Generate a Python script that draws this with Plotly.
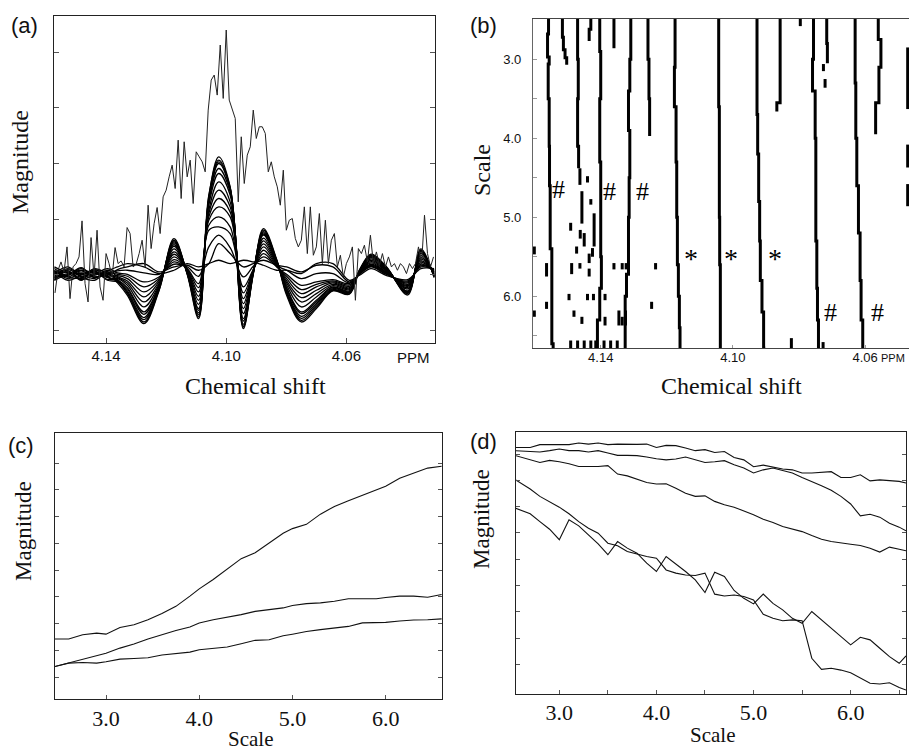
import plotly.graph_objects as go

W, H = 909, 753
SERIF = "Liberation Serif, Times New Roman, serif"
SANS = "Liberation Sans, Arial, Helvetica, sans-serif"

# ---------------- panel (a): wavelet-filtered spectra + raw spectrum ----------------
a_knots_ppm = [4.1572, 4.1527, 4.1483, 4.1439, 4.1395, 4.1362, 4.1329, 4.1274, 4.1224, 4.1174,
               4.1130, 4.1092, 4.1058, 4.1025, 4.0987, 4.0943, 4.0910, 4.0876, 4.0832, 4.0799,
               4.0750, 4.0700, 4.0645, 4.0590, 4.0556, 4.0518, 4.0468, 4.0396, 4.0352, 4.0308]
a_curve_A = [158, 175, 155, 178, 150, 145, 110, 25, 120, 270, 170, 40, 400, 520, 430, 5, 170, 300, 210, 110, 30, 70, 120, 110, 180, 225, 190, 110, 240, 160]
a_curve_A2 = [175, 160, 178, 158, 172, 142, 105, 20, 118, 275, 168, 35, 405, 510, 428, 10, 168, 305, 212, 105, 25, 65, 118, 108, 182, 228, 192, 106, 244, 158]
a_curve_A3 = [150, 182, 162, 170, 158, 147, 114, 32, 124, 266, 171, 46, 395, 505, 425, 12, 171, 296, 209, 114, 36, 75, 122, 112, 180, 224, 189, 112, 238, 161]
a_curve_H = [180, 155, 172, 165, 175, 148, 118, 38, 126, 262, 172, 52, 392, 500, 422, 18, 172, 292, 208, 118, 42, 80, 125, 114, 179, 222, 188, 114, 236, 162]
a_curve_B2 = [162, 178, 150, 182, 160, 150, 124, 48, 130, 257, 174, 60, 385, 485, 415, 28, 174, 288, 206, 124, 50, 85, 128, 116, 178, 220, 186, 116, 232, 164]
a_curve_B = [172, 165, 185, 160, 168, 152, 128, 55, 132, 252, 175, 65, 375, 470, 405, 35, 175, 285, 205, 128, 55, 90, 130, 118, 178, 218, 185, 118, 230, 165]
a_curve_C2 = [155, 170, 168, 176, 152, 155, 135, 70, 136, 244, 176, 78, 360, 445, 385, 50, 176, 276, 202, 135, 70, 100, 134, 122, 176, 214, 182, 124, 224, 168]
a_curve_C = [185, 160, 158, 185, 170, 158, 142, 85, 140, 235, 178, 90, 350, 420, 370, 65, 178, 268, 200, 142, 85, 110, 138, 125, 175, 210, 180, 128, 218, 170]
a_curve_I = [165, 185, 170, 155, 180, 161, 148, 100, 145, 228, 180, 102, 340, 395, 355, 80, 179, 259, 198, 148, 98, 120, 142, 128, 173, 206, 178, 132, 213, 172]
a_curve_D = [150, 168, 180, 172, 162, 164, 155, 115, 150, 220, 182, 115, 330, 370, 340, 95, 180, 250, 195, 155, 110, 130, 145, 132, 172, 202, 175, 135, 208, 175]
a_curve_E2 = [178, 150, 165, 180, 175, 168, 162, 130, 155, 212, 184, 128, 315, 340, 310, 112, 181, 240, 192, 162, 122, 138, 148, 136, 171, 198, 174, 138, 203, 176]
a_curve_E = [168, 178, 152, 168, 185, 172, 168, 145, 160, 205, 185, 140, 300, 310, 290, 130, 182, 230, 190, 168, 135, 145, 152, 140, 170, 195, 172, 142, 198, 178]
a_curve_F2 = [160, 165, 188, 160, 170, 178, 180, 172, 168, 198, 190, 162, 250, 285, 248, 160, 192, 220, 193, 180, 155, 170, 170, 142, 169, 192, 170, 145, 194, 180]
a_curve_F = [190, 172, 170, 176, 165, 182, 190, 200, 175, 190, 195, 180, 200, 260, 230, 190, 200, 210, 195, 190, 175, 195, 190, 145, 168, 190, 168, 148, 190, 182]
a_curve_G = [170, 190, 160, 150, 178, 190, 200, 190, 170, 180, 200, 190, 200, 210, 200, 210, 205, 195, 180, 180, 170, 200, 200, 150, 165, 185, 165, 152, 185, 185]
a_curves = [a_curve_A, a_curve_A2, a_curve_A3, a_curve_H, a_curve_B2, a_curve_B, a_curve_C2, a_curve_C,
            a_curve_I, a_curve_D, a_curve_E2, a_curve_E, a_curve_F2, a_curve_F, a_curve_G]

a_raw_start_ppm = 4.157
a_raw_step_ppm = 0.001
a_raw = [112, 180, 205, 175, 250, 95, 190, 200, 220, 328, 140, 85, 278, 160, 300, 130, 90, 230, 200, 160,
         248, 200, 208, 190, 308, 290, 190, 198, 230, 270, 190, 375, 245, 320, 368, 290, 400, 420, 460, 495,
         425, 570, 395, 565, 460, 510, 380, 535, 520, 505, 475, 660, 750, 765, 705, 855, 695, 900, 690, 660,
         635, 385, 580, 440, 525, 550, 660, 575, 610, 610, 590, 475, 505, 460, 430, 375, 480, 300, 330, 335,
         275, 250, 270, 370, 230, 370, 225, 250, 350, 200, 330, 200, 270, 290, 190, 225, 160, 200, 220, 250,
         90, 245, 230, 255, 205, 285, 200, 235, 195, 230, 190, 220, 190, 200, 180, 200, 190, 170, 200, 185,
         200, 250, 195, 345, 230, 190, 220]
a_raw_ppm = [round(a_raw_start_ppm - a_raw_step_ppm * i, 4) for i in range(len(a_raw))]
a_xticks = [4.14, 4.10, 4.06]
a_yticks = [0, 166.6, 333.2, 499.8, 666.4, 833.0]

# ---------------- panel (b): maxima lines (ridges) over scale ----------------
ridges_ppm = [
    [4.1558, 4.1561, 4.1556, 4.1559, 4.1556, 4.1555, 4.1553, 4.1548, 4.1544, 4.1544],
    [4.1516, 4.1513, 4.1508, 4.1503, 4.1503],
    [4.1470, 4.1468, 4.1470, 4.1467, 4.1467],
    [4.1430, 4.1435, 4.1435],
    [4.1403, 4.1400, 4.1403, 4.1400, 4.1400, 4.1398, 4.1403, 4.1410, 4.1410],
    [4.1360, 4.1360],
    [4.1309, 4.1312, 4.1316, 4.1312, 4.1314, 4.1316, 4.1322, 4.1326, 4.1326],
    [4.1257, 4.1254, 4.1252, 4.1252],
    [4.1175, 4.1177, 4.1172, 4.1170, 4.1168, 4.1165, 4.1162, 4.1160, 4.1158],
    [4.1043, 4.1043, 4.1041, 4.1041, 4.1040, 4.1038, 4.1038, 4.1038],
    [4.0927, 4.0927, 4.0925, 4.0922, 4.0919, 4.0917, 4.0912, 4.0907, 4.0902],
    [4.0857, 4.0857, 4.0867, 4.0867],
    [4.0796, 4.0796],
    [4.0756, 4.0759, 4.0751, 4.0749, 4.0749, 4.0746, 4.0744, 4.0741, 4.0741],
    [4.0716, 4.0714, 4.0714],
    [4.0630, 4.0628, 4.0625, 4.0620, 4.0615, 4.0612, 4.0607, 4.0605],
    [4.0560, 4.0552, 4.0558, 4.0568, 4.0568],
]
ridges_scale = [
    [2.49, 2.68, 2.97, 3.06, 3.5, 4.1, 4.6, 5.4, 6.6, 6.655],
    [2.49, 2.72, 2.88, 2.98, 3.07],
    [2.49, 3.0, 3.5, 4.1, 4.38],
    [2.49, 2.62, 2.77],
    [2.49, 2.9, 3.5, 4.3, 4.9, 5.5, 5.9, 6.3, 6.655],
    [2.49, 2.86],
    [2.49, 3.0, 3.4, 3.9, 4.5, 5.0, 5.72, 6.0, 6.655],
    [2.49, 3.0, 3.5, 3.97],
    [2.49, 3.1, 3.6, 4.3, 5.0, 5.6, 6.0, 6.4, 6.655],
    [2.49, 3.0, 3.6, 4.3, 5.0, 5.6, 6.2, 6.655],
    [2.49, 3.2, 3.7, 4.2, 4.8, 5.3, 5.8, 6.2, 6.655],
    [2.49, 2.9, 3.55, 3.66],
    [2.49, 2.58],
    [2.49, 3.0, 3.4, 4.0, 4.6, 5.3, 5.9, 6.3, 6.655],
    [2.49, 2.8, 3.05],
    [2.49, 3.3, 4.0, 4.6, 5.2, 5.8, 6.3, 6.655],
    [2.49, 2.75, 3.1, 3.55, 3.95],
]
frag_ppm = [4.1601, 4.1601, 4.1564, 4.1564, 4.1491, 4.1488, 4.1496, 4.1481, 4.1473, 4.1463,
            4.1457, 4.1462, 4.1463, 4.1457, 4.1440, 4.1430, 4.1420, 4.1425, 4.1435, 4.1450,
            4.1435, 4.1422, 4.1440, 4.1387, 4.1387, 4.1360, 4.1335, 4.1323, 4.1234, 4.1246,
            4.1345, 4.1335, 4.1325,
            4.1491, 4.1470, 4.1450, 4.1430, 4.1415, 4.1390, 4.1370, 4.1350,
            4.0823, 4.0727, 4.0726, 4.0721, 4.0471, 4.0471, 4.0471]
frag_s0 = [5.37, 6.18, 5.58, 6.07, 5.07, 5.58, 5.97, 6.18, 5.37, 4.38,
           4.67, 5.16, 5.58, 6.26, 4.48, 4.77, 4.95, 5.39, 5.46, 5.20,
           5.65, 5.97, 5.97, 5.97, 6.26, 5.58, 5.58, 5.58, 5.58, 6.07,
           6.18, 6.26, 6.18,
           6.56, 6.56, 6.56, 6.56, 6.56, 6.56, 6.56, 6.56,
           6.53, 6.58, 3.06, 3.25, 2.85, 4.08, 4.58]
frag_s1 = [5.47, 6.26, 5.75, 6.16, 5.17, 5.72, 6.05, 6.26, 5.46, 4.59,
           5.08, 5.27, 5.65, 6.35, 4.56, 4.84, 5.37, 5.50, 5.58, 5.37,
           5.75, 6.05, 6.05, 6.05, 6.37, 5.66, 5.66, 5.66, 5.66, 6.16,
           6.37, 6.37, 6.37,
           6.655, 6.655, 6.655, 6.655, 6.655, 6.655, 6.655, 6.655,
           6.655, 6.655, 3.15, 3.36, 3.63, 4.37, 4.86]
b_marks_text = ["#", "#", "#", "*", "*", "*", "#", "#"]
b_marks_ppm = [4.1528, 4.1373, 4.1274, 4.1126, 4.1005, 4.0874, 4.0706, 4.0562]
b_marks_scale = [4.65, 4.67, 4.67, 5.52, 5.52, 5.52, 6.21, 6.21]
b_xticks = [4.14, 4.10, 4.06]
b_yticks = [3.0, 3.5, 4.0, 4.5, 5.0, 5.5, 6.0, 6.5]
b_yticklabels = ["3.0", "", "4.0", "", "5.0", "", "6.0", ""]

# ---------------- panel (c): magnitude vs scale (increasing) ----------------
c_scale = [2.45, 2.6, 2.75, 2.9, 3.0, 3.15, 3.3, 3.45, 3.6, 3.75, 3.9, 4.0, 4.15, 4.3, 4.45,
           4.6, 4.75, 4.9, 5.0, 5.15, 5.3, 5.45, 5.6, 5.75, 5.9, 6.0, 6.15, 6.3, 6.45, 6.6]
c_top = [1.43, 1.43, 1.59, 1.65, 1.61, 1.86, 1.96, 2.15, 2.38, 2.65, 3.03, 3.30, 3.65, 4.05, 4.43,
         4.65, 5.00, 5.38, 5.55, 5.71, 6.09, 6.38, 6.59, 6.80, 7.00, 7.13, 7.43, 7.63, 7.81, 7.88]
c_mid = [0.40, 0.53, 0.68, 0.80, 0.90, 1.09, 1.24, 1.43, 1.59, 1.75, 1.88, 2.03, 2.15, 2.24, 2.34,
         2.46, 2.53, 2.59, 2.68, 2.75, 2.78, 2.84, 2.93, 2.93, 2.93, 2.98, 3.03, 3.03, 2.99, 3.09]
c_low = [0.40, 0.53, 0.55, 0.53, 0.58, 0.68, 0.70, 0.73, 0.83, 0.88, 0.94, 1.03, 1.08, 1.13, 1.25,
         1.38, 1.40, 1.55, 1.61, 1.71, 1.78, 1.85, 1.90, 2.03, 2.03, 2.05, 2.10, 2.14, 2.15, 2.18]

# ---------------- panel (d): magnitude vs scale (decreasing) ----------------
d_scale = [2.55, 2.7, 2.8, 2.9, 3.0, 3.1, 3.2, 3.3, 3.4, 3.5, 3.6, 3.7, 3.8, 3.9, 4.0, 4.1, 4.2,
           4.3, 4.4, 4.5, 4.6, 4.7, 4.8, 4.9, 5.0, 5.1, 5.2, 5.3, 5.4, 5.5, 5.6, 5.7, 5.8, 5.9,
           6.0, 6.1, 6.2, 6.3, 6.4, 6.5, 6.57]
d_1 = [8.25, 8.25, 8.36, 8.36, 8.36, 8.36, 8.42, 8.38, 8.42, 8.36, 8.38, 8.37, 8.37, 8.38, 8.25, 8.33, 8.32,
       8.23, 8.13, 8.17, 8.06, 8.10, 7.87, 7.78, 7.52, 7.58, 7.50, 7.43, 7.40, 7.28, 7.28, 7.30, 7.33, 7.11,
       7.11, 7.21, 6.98, 7.02, 6.98, 6.96, 6.90]
d_2 = [8.13, 8.10, 8.08, 8.13, 8.19, 8.13, 8.13, 8.08, 8.13, 8.04, 7.95, 7.95, 7.94, 7.89, 7.82, 7.78, 7.81,
       7.89, 7.78, 7.68, 7.71, 7.75, 7.59, 7.47, 7.28, 7.40, 7.47, 7.38, 7.28, 7.11, 6.96, 6.79, 6.62, 6.39,
       6.10, 5.65, 5.71, 5.60, 5.37, 5.22, 5.08]
d_3 = [7.94, 7.78, 7.68, 7.76, 7.71, 7.63, 7.53, 7.53, 7.53, 7.56, 7.24, 7.17, 7.05, 6.92, 6.86, 6.87, 6.70,
       6.51, 6.39, 6.41, 6.20, 6.07, 5.98, 5.84, 5.69, 5.52, 5.40, 5.24, 5.14, 5.05, 4.90, 4.76, 4.67, 4.61,
       4.57, 4.52, 4.42, 4.27, 4.46, 4.38, 4.32]
d_4 = [7.02, 6.67, 6.39, 6.20, 5.98, 5.73, 5.43, 5.18, 4.99, 4.61, 4.51, 4.29, 4.19, 4.10, 4.04, 3.59, 3.47,
       3.40, 3.38, 3.47, 2.67, 2.60, 2.64, 2.58, 2.45, 1.90, 1.75, 1.66, 1.69, 1.66, 0.23, -0.19, -0.15, -0.22,
       -0.32, -0.53, -0.72, -0.75, -0.70, -0.88, -0.98]
d_5 = [5.94, 5.73, 5.43, 5.14, 4.74, 5.50, 5.27, 4.93, 4.58, 4.17, 4.67, 4.42, 4.23, 3.85, 3.53, 4.10, 3.82,
       3.53, 3.21, 2.73, 3.50, 3.34, 2.81, 2.51, 2.30, 2.67, 2.32, 2.07, 1.75, 1.56, 2.01, 1.69, 1.37, 1.08,
       0.74, 1.03, 0.93, 0.61, 0.29, 0.04, 0.32]
cd_xticks = [3.0, 3.5, 4.0, 4.5, 5.0, 5.5, 6.0, 6.5]
cd_xticklabels = ["3.0", "", "4.0", "", "5.0", "", "6.0", ""]
cd_yticks = [0, 1, 2, 3, 4, 5, 6, 7, 8]

fig = go.Figure()


def line(x, y, xa, ya, color="#111", width=1.1, shape="linear"):
    extra = {"smoothing": 1.0} if shape == "spline" else {}
    fig.add_trace(go.Scatter(x=x, y=y, mode="lines", xaxis=xa, yaxis=ya, hoverinfo="skip",
                             showlegend=False, line=dict(color=color, width=width, shape=shape, **extra)))


# (a)
for c in a_curves:
    line(a_knots_ppm, c, "x", "y", color="#000", width=1.3, shape="spline")
line(a_raw_ppm, a_raw, "x", "y", color="#222", width=1.0)

# (b)
for xs, ss in zip(ridges_ppm, ridges_scale):
    line(xs, ss, "x2", "y2", color="#000", width=3, shape="vh")
fx, fy = [], []
for xv, s0, s1 in zip(frag_ppm, frag_s0, frag_s1):
    fx += [xv, xv, None]
    fy += [s0, s1, None]
line(fx, fy, "x2", "y2", color="#000", width=3)

# (c)
for c in (c_top, c_mid, c_low):
    line(c_scale, c, "x3", "y3", color="#111", width=1.1)

# (d)
for c in (d_1, d_2, d_3, d_4, d_5):
    line(d_scale, c, "x4", "y4", color="#111", width=1.1)


def dom_x(a, b):
    return [a / W, b / W]


def dom_y(top, bottom):
    return [1 - bottom / H, 1 - top / H]


axis_common = dict(showgrid=False, zeroline=False, showline=True, linecolor="#222", linewidth=1.3,
                   ticks="inside", tickcolor="#555", tickwidth=1)

fig.update_layout(
    width=W, height=H, margin=dict(l=0, r=0, t=0, b=0),
    paper_bgcolor="white", plot_bgcolor="white", showlegend=False,
    xaxis=dict(axis_common, domain=dom_x(53.5, 435), range=[4.1575, 4.0305], anchor="y",
               tickvals=a_xticks, ticktext=["4.14", "4.10", "4.06"], ticklen=5, mirror=True,
               tickfont=dict(family=SANS, size=15, color="#111"), ticklabelstandoff=-1),
    yaxis=dict(axis_common, domain=dom_y(16, 343), range=[-38, 942], anchor="x",
               tickvals=a_yticks, showticklabels=False, ticklen=5, mirror="allticks"),
    xaxis2=dict(axis_common, domain=dom_x(533, 909), range=[4.1605, 4.0467], anchor="y2",
                tickvals=b_xticks, ticktext=["4.14", "4.10", "4.06"], ticklen=3, mirror=True,
                tickcolor="#999", linecolor="#444",
                tickfont=dict(family=SANS, size=13, color="#111"), ticklabelstandoff=-3),
    yaxis2=dict(axis_common, domain=dom_y(19, 348), range=[6.655, 2.49], anchor="x2",
                tickvals=b_yticks, ticktext=b_yticklabels, ticklen=4, tickcolor="#999", linecolor="#666",
                tickfont=dict(family=SANS, size=13, color="#111"), ticklabelstandoff=8),
    xaxis3=dict(axis_common, domain=dom_x(55, 442), range=[2.453, 6.604], anchor="y3",
                tickvals=[3.0, 4.0, 5.0, 6.0], ticktext=["3.0", "4.0", "5.0", "6.0"], ticklen=4, mirror=True,
                tickfont=dict(family=SERIF, size=22, color="#111"), ticklabelstandoff=-1),
    yaxis3=dict(axis_common, domain=dom_y(433, 699), range=[-0.81, 9.12], anchor="x3",
                tickvals=cd_yticks, showticklabels=False, ticklen=4, mirror="allticks"),
    xaxis4=dict(axis_common, domain=dom_x(516, 906), range=[2.554, 6.57], anchor="y4",
                tickvals=cd_xticks, ticktext=cd_xticklabels, ticklen=4, mirror=True,
                tickfont=dict(family=SERIF, size=22, color="#111"), ticklabelstandoff=-2),
    yaxis4=dict(axis_common, domain=dom_y(432, 694), range=[-1.13, 8.84], anchor="x4",
                tickvals=cd_yticks, showticklabels=False, ticklen=4, mirror="allticks"),
)


def ann(text, x, y, size, family=SERIF, angle=0, xanchor="center"):
    return dict(text=text, x=x / W, y=1 - y / H, xref="paper", yref="paper", showarrow=False,
                font=dict(family=family, size=size, color="#111"), textangle=angle,
                xanchor=xanchor, yanchor="middle")


annots = [
    ann("(a)", 24, 26, 22, SANS),
    ann("(b)", 484, 26, 22, SANS),
    ann("(c)", 21, 445, 22, SANS),
    ann("(d)", 484, 441, 22, SANS),
    ann("Magnitude", 20, 162, 24, angle=-90),
    ann("Chemical shift", 255, 386, 24),
    ann("PPM", 413, 357, 15, SANS),
    ann("Scale", 482, 170, 24, angle=-90),
    ann("Chemical shift", 731, 386, 24),
    ann("PPM", 907, 358, 11, SANS, xanchor="right"),
    ann("Magnitude", 23, 531, 23, angle=-90),
    ann("Scale", 250, 739, 21),
    ann("Magnitude", 481, 519, 23, angle=-90),
    ann("Scale", 712, 735, 21),
]
for t, xv, sv in zip(b_marks_text, b_marks_ppm, b_marks_scale):
    annots.append(dict(text=t, x=xv, y=sv, xref="x2", yref="y2", showarrow=False,
                       font=dict(family=SERIF, size=26 if t == "#" else 28, color="#000")))
fig.update_layout(annotations=annots)

fig.write_html("out.html", config={"displayModeBar": False},
               post_script="document.body.style.margin='0';document.body.style.padding='0';"
                           "document.body.style.overflow='hidden';")
